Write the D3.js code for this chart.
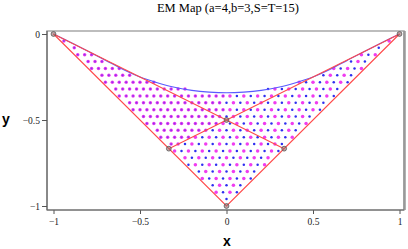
<!DOCTYPE html>
<html><head><meta charset="utf-8">
<script src="https://cdn.jsdelivr.net/npm/d3@7"></script>
<style>body{margin:0;background:#fff}svg{display:block}</style>
</head><body><svg id="c" width="408" height="249"></svg>
<script>
const title = "EM Map (a=4,b=3,S=T=15)";
const xLabel = "x", yLabel = "y";
const xTicks = [-1, -0.5, 0, 0.5, 1];
const yTicks = [0, -0.5, -1];
const xMinor = [-1,-0.9,-0.8,-0.7,-0.6,-0.5,-0.4,-0.3,-0.2,-0.1,0,0.1,0.2,0.3,0.4,0.5,0.6,0.7,0.8,0.9,1];
const yMinor = [0,-0.1,-0.2,-0.3,-0.4,-0.5,-0.6,-0.7,-0.8,-0.9,-1];

// red boundary lines
const vEdge = [[-1,0],[0,-1],[1,0]];
const redLine1 = [[-1,0],[1/3,-2/3]];
const redLine2 = [[1,0],[-1/3,-2/3]];
// blue curve
const blueCurve = [[-1,0],[-0.9,-0.05],[-0.8,-0.10],[-0.7,-0.152],[-0.6,-0.205],[-0.5,-0.25],[-0.4,-0.283],[-0.3,-0.31],[-0.2,-0.328],[-0.1,-0.338],[0,-0.342],
  [0.1,-0.338],[0.2,-0.328],[0.3,-0.31],[0.4,-0.283],[0.5,-0.25],[0.6,-0.205],[0.7,-0.152],[0.8,-0.10],[0.9,-0.05],[1,0]];
// fixed points (circled)
const fixedPts = [[-1,0],[1,0],[0,-1],[-1/3,-2/3],[1/3,-2/3],[0,-0.5]];

// dots where both series coincide (purple look): [y, xs]
const sharedRows = [
 [-0.04,[-0.94]],
 [-0.08,[-0.88]],
 [-0.12,[-0.86,-0.82,-0.78]],
 [-0.16,[-0.80,-0.76,-0.72]],
 [-0.20,[-0.78,-0.74,-0.70,-0.66,-0.62]],
 [-0.24,[-0.72,-0.68,-0.64,-0.60,-0.56]],
 [-0.28,[-0.70,-0.66,-0.62,-0.58,-0.54,-0.50,-0.46,-0.42]],
 [-0.32,[-0.64,-0.60,-0.56,-0.52,-0.48,-0.44,-0.40,-0.36,-0.32,-0.28,-0.24]],
 [-0.36,[-0.62,-0.58,-0.54,-0.50,-0.46,-0.42,-0.38,-0.34,-0.30,-0.26,-0.22,-0.18,-0.14,-0.10,-0.06,-0.02]],
 [-0.40,[-0.56,-0.52,-0.48,-0.44,-0.40,-0.36,-0.32,-0.28,-0.24,-0.20,-0.16,-0.12,-0.08,-0.04]],
 [-0.44,[-0.54,-0.50,-0.46,-0.42,-0.38,-0.34,-0.30,-0.26,-0.22,-0.18,-0.14,-0.10,-0.06,-0.02]],
 [-0.48,[-0.48,-0.44,-0.40,-0.36,-0.32,-0.28,-0.24,-0.20,-0.16,-0.12,-0.08,-0.04]],
 [-0.52,[-0.46,-0.42,-0.38,-0.34,-0.30,-0.26,-0.22,-0.18,-0.14,-0.10,-0.06]],
 [-0.56,[-0.40,-0.36,-0.32,-0.28,-0.24,-0.20,-0.16,-0.12]],
 [-0.60,[-0.38,-0.34,-0.30,-0.26,-0.22]],
 [-0.64,[-0.32,-0.28]]
];
// magenta-only dots
const magentaRows = [
 [-0.04,[0.94]],
 [-0.12,[0.78,0.86]],
 [-0.16,[0.76]],
 [-0.20,[0.62,0.70,0.78]],
 [-0.24,[0.60,0.68]],
 [-0.28,[0.42,0.50,0.58,0.66]],
 [-0.32,[0.28,0.36,0.44,0.52,0.60]],
 [-0.36,[0.02,0.10,0.18,0.26,0.34,0.42,0.50,0.58]],
 [-0.40,[0.04,0.12,0.20,0.28,0.36,0.44,0.52]],
 [-0.44,[0.02,0.10,0.18,0.26,0.34,0.42,0.50]],
 [-0.48,[0.04,0.12,0.20,0.28,0.36,0.44]],
 [-0.52,[-0.02,0.06,0.14,0.22,0.30,0.38,0.46]],
 [-0.56,[-0.04,0.04,0.12,0.20,0.28,0.36]],
 [-0.60,[-0.18,-0.10,-0.02,0.06,0.14,0.22,0.30,0.38]],
 [-0.64,[-0.20,-0.12,-0.04,0.04,0.12,0.20,0.28]],
 [-0.68,[-0.30,-0.22,-0.14,-0.06,0.02,0.10,0.18,0.26]],
 [-0.72,[-0.24,-0.16,-0.08,0,0.08,0.16,0.24]],
 [-0.76,[-0.18,-0.10,-0.02,0.06,0.14,0.22]],
 [-0.80,[-0.12,-0.04,0.04,0.12]],
 [-0.84,[-0.14,-0.06,0.02,0.10]],
 [-0.88,[-0.04,0.04]],
 [-0.92,[-0.06,0.02]]
];
// blue-only dots
const blueRows = [
 [-0.08,[0.88]],
 [-0.12,[0.82]],
 [-0.16,[0.72,0.80]],
 [-0.20,[0.66,0.74]],
 [-0.24,[0.56,0.64,0.72]],
 [-0.28,[0.46,0.54,0.62,0.70]],
 [-0.32,[0.24,0.32,0.40,0.48,0.56,0.64]],
 [-0.36,[0.06,0.14,0.22,0.30,0.38,0.46,0.54,0.62]],
 [-0.40,[0,0.08,0.16,0.24,0.32,0.40,0.48,0.56]],
 [-0.44,[0.06,0.14,0.22,0.30,0.38,0.46,0.54]],
 [-0.48,[0,0.08,0.16,0.24,0.32,0.40,0.48]],
 [-0.52,[0.02,0.10,0.18,0.26,0.34,0.42]],
 [-0.56,[-0.08,0,0.08,0.16,0.24,0.32,0.40]],
 [-0.60,[-0.14,-0.06,0.02,0.10,0.18,0.26,0.34]],
 [-0.64,[-0.24,-0.16,-0.08,0,0.08,0.16,0.24,0.32]],
 [-0.68,[-0.26,-0.18,-0.10,-0.02,0.06,0.14,0.22,0.30]],
 [-0.72,[-0.20,-0.12,-0.04,0.04,0.12,0.20]],
 [-0.76,[-0.22,-0.14,-0.06,0.02,0.10,0.18]],
 [-0.80,[-0.16,-0.08,0,0.08,0.16]],
 [-0.84,[-0.10,-0.02,0.06,0.14]],
 [-0.88,[-0.08,0,0.08]],
 [-0.92,[-0.02,0.06]],
 [-0.96,[0]]
];

const svg = d3.select("#c");
const x = d3.scaleLinear().domain([-1, 1]).range([53.5, 399.5]);
const y = d3.scaleLinear().domain([0, -1]).range([34, 206]);
const frame = {l: 47, t: 31, r: 404, b: 210};

const flat = rows => rows.flatMap(([yy, xs]) => xs.map(xx => [xx, yy]));
const shared = flat(sharedRows), mag = flat(magentaRows), blu = flat(blueRows);

// title
svg.append("text").attr("x", 228).attr("y", 12).attr("text-anchor", "middle")
  .style("font-family", "'Liberation Serif','Times New Roman',serif").style("font-size", "12.5px")
  .text(title);

// frame
svg.append("rect").attr("x", frame.l).attr("y", frame.t).attr("width", frame.r - frame.l).attr("height", frame.b - frame.t)
  .attr("fill", "none").attr("stroke", "#a8a8a8").attr("stroke-width", 1.5);
svg.append("line").attr("x1", frame.r + 0.5).attr("x2", frame.r + 0.5).attr("y1", frame.t).attr("y2", frame.b)
  .attr("stroke", "#999").attr("stroke-width", 2.5);

// axes
const fmt = d => d === 0 ? "0" : String(d).replace("-", "\u2212");
const serif = "'Liberation Serif','Times New Roman',serif";
const gx = svg.append("g").attr("transform", `translate(0,${frame.b})`);
gx.call(d3.axisBottom(x).tickValues(xMinor).tickSize(2.5).tickFormat(""));
gx.call(d3.axisBottom(x).tickValues(xTicks).tickSize(4).tickPadding(4).tickFormat(fmt));
gx.selectAll(".domain").remove();
gx.selectAll("line").attr("stroke", "#555");
gx.selectAll("text").style("font-family", serif).style("font-size", "9.5px").attr("fill", "#222");

const gy = svg.append("g").attr("transform", `translate(${frame.l},0)`);
gy.call(d3.axisLeft(y).tickValues(yMinor).tickSize(2.5).tickFormat(""));
gy.call(d3.axisLeft(y).tickValues(yTicks).tickSize(5).tickPadding(2).tickFormat(fmt));
gy.selectAll(".domain").remove();
gy.selectAll("line").attr("stroke", "#555");
gy.selectAll("text").style("font-family", serif).style("font-size", "9.5px").attr("fill", "#222");

// axis lines (left & bottom darker)
svg.append("line").attr("x1", frame.l).attr("x2", frame.l).attr("y1", frame.t).attr("y2", frame.b).attr("stroke", "#555").attr("stroke-width", 1);
svg.append("line").attr("x1", frame.l).attr("x2", frame.r).attr("y1", frame.b).attr("y2", frame.b).attr("stroke", "#666").attr("stroke-width", 1.2);

// axis labels
svg.append("text").attr("x", 227).attr("y", 246).attr("text-anchor", "middle")
  .style("font-family", "'Liberation Sans',Arial,sans-serif").style("font-weight", "bold").style("font-size", "14px").text(xLabel);
svg.append("text").attr("x", 6).attr("y", 124).attr("text-anchor", "middle")
  .style("font-family", "'Liberation Sans',Arial,sans-serif").style("font-weight", "bold").style("font-size", "14px").text(yLabel);

// dots
const dots = svg.append("g");
dots.selectAll(".m").data(mag.concat(shared)).join("circle").attr("class", "m")
  .attr("cx", d => x(d[0])).attr("cy", d => y(d[1])).attr("r", 1.75).attr("fill", "#f03cf0");
dots.selectAll(".b").data(blu).join("circle").attr("class", "b")
  .attr("cx", d => x(d[0])).attr("cy", d => y(d[1])).attr("r", 1.25).attr("fill", "#2e2ef0");
dots.selectAll(".s").data(shared).join("circle").attr("class", "s")
  .attr("cx", d => x(d[0])).attr("cy", d => y(d[1])).attr("r", 0.95).attr("fill", "#7a30f0").attr("opacity", 0.8);

// lines
const line = d3.line().x(d => x(d[0])).y(d => y(d[1]));
svg.append("path").attr("d", d3.line().x(d => x(d[0])).y(d => y(d[1])).curve(d3.curveCatmullRom)(blueCurve))
  .attr("fill", "none").attr("stroke", "#5a5aff").attr("stroke-width", 1.1);
[vEdge, redLine1, redLine2].forEach(p => svg.append("path").attr("d", line(p))
  .attr("fill", "none").attr("stroke", "#ff4a4a").attr("stroke-width", 1.1));

// fixed point markers
svg.selectAll(".fp").data(fixedPts).join("circle").attr("class", "fp")
  .attr("cx", d => x(d[0])).attr("cy", d => y(d[1])).attr("r", 2.4)
  .attr("fill", "#9a7070").attr("fill-opacity", 0.6).attr("stroke", "#555").attr("stroke-width", 0.8);
</script></body></html>
